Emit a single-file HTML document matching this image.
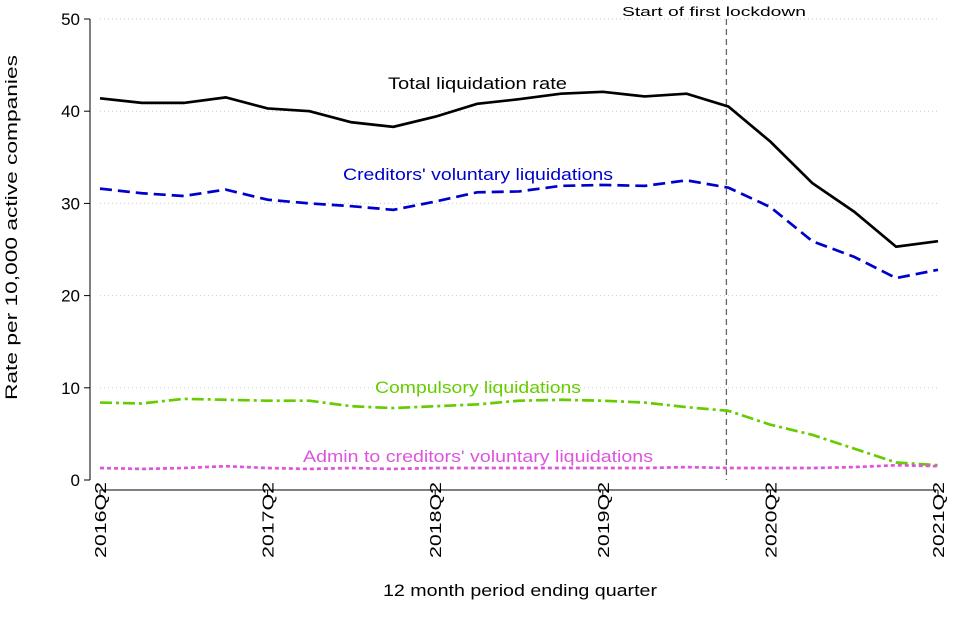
<!DOCTYPE html>
<html><head><meta charset="utf-8"><style>
body{margin:0;background:#fff;}
svg{display:block;font-family:"Liberation Sans",Arial,sans-serif;}
</style></head><body>
<svg id="chart" width="960" height="640"></svg>
<script>
const quarters=["2016Q2","2016Q3","2016Q4","2017Q1","2017Q2","2017Q3","2017Q4","2018Q1","2018Q2","2018Q3","2018Q4","2019Q1","2019Q2","2019Q3","2019Q4","2020Q1","2020Q2","2020Q3","2020Q4","2021Q1","2021Q2"];
const totalRate=[41.4,40.9,40.9,41.5,40.3,40.0,38.8,38.3,39.4,40.8,41.3,41.9,42.1,41.6,41.9,40.5,36.7,32.2,29.1,25.3,25.9];
const cvlRate=[31.6,31.1,30.8,31.5,30.4,30.0,29.7,29.3,30.2,31.2,31.3,31.9,32.0,31.9,32.5,31.7,29.6,25.9,24.2,21.9,22.8];
const compulsoryRate=[8.4,8.3,8.8,8.7,8.6,8.6,8.0,7.8,8.0,8.2,8.6,8.7,8.6,8.4,7.9,7.5,6.0,4.9,3.4,1.9,1.6];
const adminRate=[1.3,1.2,1.3,1.5,1.3,1.2,1.3,1.2,1.3,1.3,1.3,1.3,1.3,1.3,1.4,1.3,1.3,1.3,1.4,1.6,1.5];
const yTicks=[0,10,20,30,40,50];
const xTickLabels=["2016Q2","2017Q2","2018Q2","2019Q2","2020Q2","2021Q2"];
const lockdownIndex=14.95;

const NS="http://www.w3.org/2000/svg";
const svg=document.getElementById('chart');
const X0=100,X1=938,Y0=480,Y1=19;
const x=i=>X0+(X1-X0)*i/(quarters.length-1);
const y=v=>Y0-(Y0-Y1)*v/50;
function el(tag,attrs,parent){const e=document.createElementNS(NS,tag);for(const k in attrs)e.setAttribute(k,attrs[k]);(parent||svg).appendChild(e);return e;}

el('line',{x1:90,x2:90,y1:Y1,y2:Y0,stroke:'#000','stroke-width':1});
yTicks.forEach(v=>{
  if(v>0){const g=el('line',{x1:X0,x2:X1,y1:y(v),y2:y(v),stroke:'#ccc','stroke-dasharray':'1,3'});
  
  }
  el('line',{x1:84,x2:90,y1:y(v),y2:y(v),stroke:'#000'});
  const t=el('text',{x:80,y:y(v)+6,'text-anchor':'end','font-size':17});
  t.textContent=v;
  
  
});
el('line',{x1:X0,x2:X1,y1:490,y2:490,stroke:'#000'});
xTickLabels.forEach(lbl=>{
  const i=quarters.indexOf(lbl);
  el('line',{x1:x(i),x2:x(i),y1:490,y2:496,stroke:'#000'});
  const t=el('text',{x:0,y:0,'text-anchor':'start','font-size':16,textLength:76,lengthAdjust:'spacingAndGlyphs',transform:`translate(${x(i)+6},558) rotate(-90)`});
  t.textContent=lbl;
  
  
});
function lt(txt,attrs,len,name){
  const t=el('text',Object.assign({'text-anchor':'start',textLength:len,lengthAdjust:'spacingAndGlyphs'},attrs));
  t.textContent=txt;
  
  
  return t;
}
lt('12 month period ending quarter',{x:383,y:596,'font-size':17},274,'x-axis-title');
lt('Rate per 10,000 active companies',{x:0,y:0,'font-size':17,transform:'translate(17,400) rotate(-90)'},345,'y-axis-title');

const lx=x(lockdownIndex);
const ll=el('line',{x1:lx,x2:lx,y1:19,y2:480,stroke:'#666','stroke-dasharray':'6,4','stroke-width':1.3});


lt('Start of first lockdown',{x:622,y:16,'font-size':13},184,'lockdown-label');

function series(data,color,dash,name,label,lx0,ly,len){
  const p=el('polyline',{points:data.map((v,i)=>x(i)+','+y(v)).join(' '),fill:'none',stroke:color,'stroke-width':2.7,'stroke-dasharray':dash});
  
  
  lt(label,{x:lx0,y:ly,'font-size':17,fill:color},len,name+'-label');
}
series(totalRate,'#000','','total-liquidation-line','Total liquidation rate',388,89,179);
series(cvlRate,'#0000cc','12,6','cvl-line',"Creditors' voluntary liquidations",343,180,270);
series(compulsoryRate,'#66cc00','12,4,3,4','compulsory-line','Compulsory liquidations',375,393,206);
series(adminRate,'#dd55dd','4,3','admin-cvl-line',"Admin to creditors' voluntary liquidations",303,462,350);
</script>
</body></html>
